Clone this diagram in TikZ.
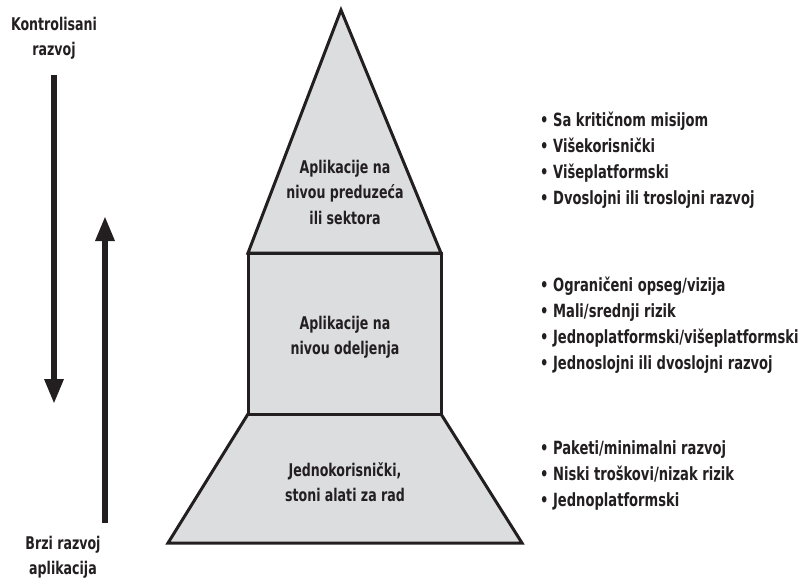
\documentclass[tikz,border=0pt]{standalone}
\usepackage{fontspec}
\setmainfont{DejaVu Sans Condensed}[FakeStretch=0.8]
\usetikzlibrary{positioning, arrows.meta}
\definecolor{layergray}{HTML}{DCDDDF}
\definecolor{inkblack}{HTML}{231F20}

\begin{document}
\begin{tikzpicture}[x=1pt, y=-1pt,
  layer/.style={line width=3pt, draw=inkblack, fill=layergray, line join=miter},
  caption/.style={font=\bfseries\fontsize{17.5}{25.5}\selectfont, text=inkblack, align=center},
  bullets/.style={font=\bfseries\fontsize{18.2}{26}\selectfont, text=inkblack, align=left, anchor=west, inner sep=0pt},
  flow/.style={line width=6pt, draw=inkblack, -{Triangle[width=18pt, length=25pt]}}]
  \useasboundingbox (0,0) rectangle (810,580);

  % pyramid
  \draw [layer] (168,543) -- (522,543) -- (441,414) -- (248,414) -- cycle;
  \draw [layer] (248,253) rectangle (441,414);
  \draw [layer] (248,253) -- (341,10) -- (441,253) -- cycle;

  \node [caption] (top) at (345,192) {Aplikacije na\\nivou preduzeća\\ili sektora};
  \node [caption] (middle) at (345,337) {Aplikacije na\\nivou odeljenja};
  \node [caption] (bottom) at (345,482) {Jednokorisnički,\\stoni alati za rad};

  % side arrows
  \node [caption] (controlled) at (54,38) {Kontrolisani\\razvoj};
  \node [caption, inner sep=1pt] (rapid) at (63,557) {Brzi razvoj\\aplikacija};
  \coordinate (downstart) at (54,75);
  \coordinate (downend) at (54,404);
  \coordinate (upstart) at (105,523);
  \coordinate (upend) at (105,216);
  \draw [flow] (downstart) -- (downend);
  \draw [flow] (upstart) -- (upend);

  % bullet lists
  \node [bullets] (toplist) at (540,160) {\textbullet\ Sa kritičnom misijom\\\textbullet\ Višekorisnički\\\textbullet\ Višeplatformski\\\textbullet\ Dvoslojni ili troslojni razvoj};
  \node [bullets] (middlelist) at (540,325) {\textbullet\ Ograničeni opseg/vizija\\\textbullet\ Mali/srednji rizik\\\textbullet\ Jednoplatformski/višeplatformski\\\textbullet\ Jednoslojni ili dvoslojni razvoj};
  \node [bullets] (bottomlist) at (540,475) {\textbullet\ Paketi/minimalni razvoj\\\textbullet\ Niski troškovi/nizak rizik\\\textbullet\ Jednoplatformski};
\end{tikzpicture}
\end{document}
